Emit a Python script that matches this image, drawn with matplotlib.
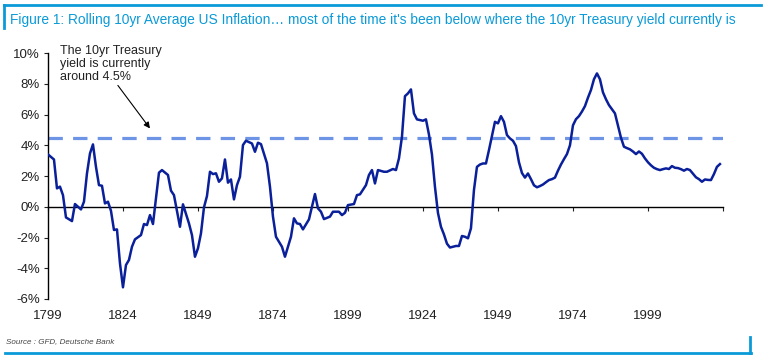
import matplotlib
matplotlib.use("Agg")
import matplotlib.pyplot as plt
from matplotlib.lines import Line2D

plt.rcParams['font.family'] = ['Liberation Sans', 'DejaVu Sans']

# rolling 10yr average US inflation, %
years = [1799, 1801, 1802, 1803, 1804, 1805, 1807, 1808, 1810, 1811,
         1812, 1813, 1814, 1815, 1816, 1817, 1818, 1819, 1820, 1821,
         1822, 1823, 1824, 1825, 1826, 1827, 1828, 1830, 1831, 1832,
         1833, 1834, 1836, 1837, 1839, 1840, 1841, 1843, 1844, 1846,
         1847, 1848, 1849, 1850, 1851, 1852, 1853, 1854, 1855, 1856,
         1857, 1858, 1859, 1860, 1861, 1862, 1863, 1864, 1865, 1867,
         1868, 1869, 1870, 1872, 1873, 1874, 1875, 1877, 1878, 1880,
         1881, 1882, 1883, 1884, 1886, 1887, 1888, 1889, 1890, 1891,
         1893, 1894, 1896, 1897, 1898, 1899, 1901, 1902, 1903, 1905,
         1906, 1907, 1908, 1909, 1911, 1912, 1914, 1915, 1916, 1917,
         1918, 1919, 1920, 1921, 1922, 1924, 1925, 1926, 1927, 1928,
         1929, 1930, 1931, 1932, 1933, 1934, 1935, 1936, 1937, 1938,
         1939, 1940, 1941, 1942, 1943, 1944, 1945, 1946, 1947, 1948,
         1949, 1950, 1951, 1952, 1953, 1954, 1955, 1956, 1957, 1958,
         1959, 1960, 1961, 1962, 1963, 1964, 1965, 1966, 1967, 1968,
         1969, 1970, 1971, 1972, 1973, 1974, 1975, 1976, 1977, 1978,
         1979, 1980, 1981, 1982, 1983, 1984, 1985, 1986, 1987, 1988,
         1989, 1990, 1991, 1992, 1993, 1994, 1995, 1996, 1997, 1998,
         1999, 2000, 2001, 2002, 2003, 2004, 2005, 2006, 2007, 2008,
         2009, 2010, 2011, 2012, 2013, 2014, 2015, 2016, 2017, 2018,
         2019, 2020, 2021, 2022, 2023]
inflation = [3.41, 3.08, 1.20, 1.31, 0.76, -0.69, -0.93, 0.18, -0.17, 0.33,
             2.17, 3.47, 4.06, 2.60, 1.41, 1.37, 0.22, 0.33, -0.26, -1.51,
             -1.47, -3.68, -5.24, -3.79, -3.46, -2.60, -2.12, -1.84, -1.12, -1.19,
             -0.54, -1.12, 2.22, 2.39, 2.07, 1.05, 0.76, -1.30, 0.16, -1.08,
             -1.84, -3.25, -2.70, -1.73, -0.04, 0.70, 2.28, 2.13, 2.18, 1.63,
             1.85, 3.08, 1.57, 1.78, 0.48, 1.41, 1.96, 4.02, 4.30, 4.12,
             3.58, 4.17, 4.08, 2.83, 1.31, -0.64, -1.95, -2.60, -3.25, -1.95,
             -0.75, -1.08, -1.12, -1.47, -0.82, 0.00, 0.83, -0.10, -0.32, -0.80,
             -0.64, -0.32, -0.32, -0.54, -0.39, 0.11, 0.18, 0.76, 0.81, 1.41,
             2.07, 2.39, 1.52, 2.39, 2.28, 2.28, 2.46, 2.39, 3.15, 4.56,
             7.20, 7.38, 7.64, 6.08, 5.69, 5.60, 5.69, 4.70, 3.40, 1.30,
             -0.40, -1.30, -1.80, -2.40, -2.65, -2.60, -2.55, -2.55, -1.90, -1.95,
             -2.05, -1.40, 1.09, 2.60, 2.75, 2.82, 2.82, 3.69, 4.60, 5.53,
             5.43, 5.90, 5.53, 4.67, 4.45, 4.30, 3.95, 2.90, 2.20, 1.90,
             2.17, 1.80, 1.40, 1.27, 1.35, 1.45, 1.60, 1.74, 1.80, 1.90,
             2.35, 2.75, 3.10, 3.43, 4.00, 5.30, 5.70, 5.90, 6.20, 6.55,
             7.10, 7.60, 8.30, 8.68, 8.30, 7.45, 7.00, 6.62, 6.35, 6.08,
             5.30, 4.50, 3.91, 3.82, 3.74, 3.60, 3.43, 3.60, 3.45, 3.15,
             2.90, 2.70, 2.54, 2.45, 2.39, 2.45, 2.50, 2.46, 2.65, 2.54,
             2.52, 2.45, 2.35, 2.46, 2.39, 2.15, 1.92, 1.80, 1.63, 1.78,
             1.75, 1.74, 2.13, 2.60, 2.78]
treasury_yield = 4.5

x_ticks = [1799, 1824, 1849, 1874, 1899, 1924, 1949, 1974, 1999, 2024]
x_labels = ['1799', '1824', '1849', '1874', '1899', '1924', '1949', '1974', '1999', '']
y_ticks = [-6, -4, -2, 0, 2, 4, 6, 8, 10]

frame_blue = '#0a9ad8'

fig = plt.figure(figsize=(7.7, 3.64), dpi=100)
ax = fig.add_axes([0.0623, 0.1786, 0.8766, 0.6754])

ax.plot(years, inflation, color='#0a1f9a', lw=1.8, zorder=3)
ax.axhline(treasury_yield, color='#6e94e6', lw=2.3, dashes=(4.5, 3.2), zorder=2)

ax.set_xlim(1799, 2024)
ax.set_ylim(-6, 10)
ax.set_yticks(y_ticks)
ax.set_yticklabels([f'{v}%' for v in y_ticks])
ax.set_xticks(x_ticks)
ax.set_xticklabels(x_labels)

for s in ['top', 'right']:
    ax.spines[s].set_visible(False)
ax.spines['bottom'].set_position(('data', 0))
ax.spines['bottom'].set_linewidth(1.0)
ax.spines['left'].set_linewidth(1.0)
ax.tick_params(axis='y', direction='out', length=3, pad=3, labelsize=9.5, colors='#222222')
ax.tick_params(axis='x', direction='out', length=3, pad=71, labelsize=9.5, colors='#222222')

ax.text(1803, 10.55, 'The 10yr Treasury\nyield is currently\naround 4.5%',
        fontsize=9, va='top', ha='left', linespacing=1.15, color='#222222')
ax.annotate('', xy=(1833, 5.1), xytext=(1822.3, 7.9),
            arrowprops=dict(arrowstyle='-|>', color='black', lw=0.8,
                            mutation_scale=9, shrinkA=0, shrinkB=0))

fig.text(0.013, 0.945, "Figure 1: Rolling 10yr Average US Inflation\u2026 most of the time it's been below where the 10yr Treasury yield currently is",
         color=frame_blue, fontsize=9.9, va='center', ha='left')
fig.text(0.008, 0.063, 'Source : GFD, Deutsche Bank', fontsize=5.8,
         style='italic', color='#444444', va='center')

# blue frame pieces
fig.add_artist(Line2D([0.0055, 0.988], [0.986, 0.986], color=frame_blue, lw=2))
fig.add_artist(Line2D([0.0055, 0.0055], [0.986, 0.923], color=frame_blue, lw=2))
fig.add_artist(Line2D([0.007, 0.975], [0.031, 0.031], color=frame_blue, lw=2))
fig.add_artist(Line2D([0.974, 0.974], [0.031, 0.075], color=frame_blue, lw=2))

fig.savefig('out.png', dpi=100)
